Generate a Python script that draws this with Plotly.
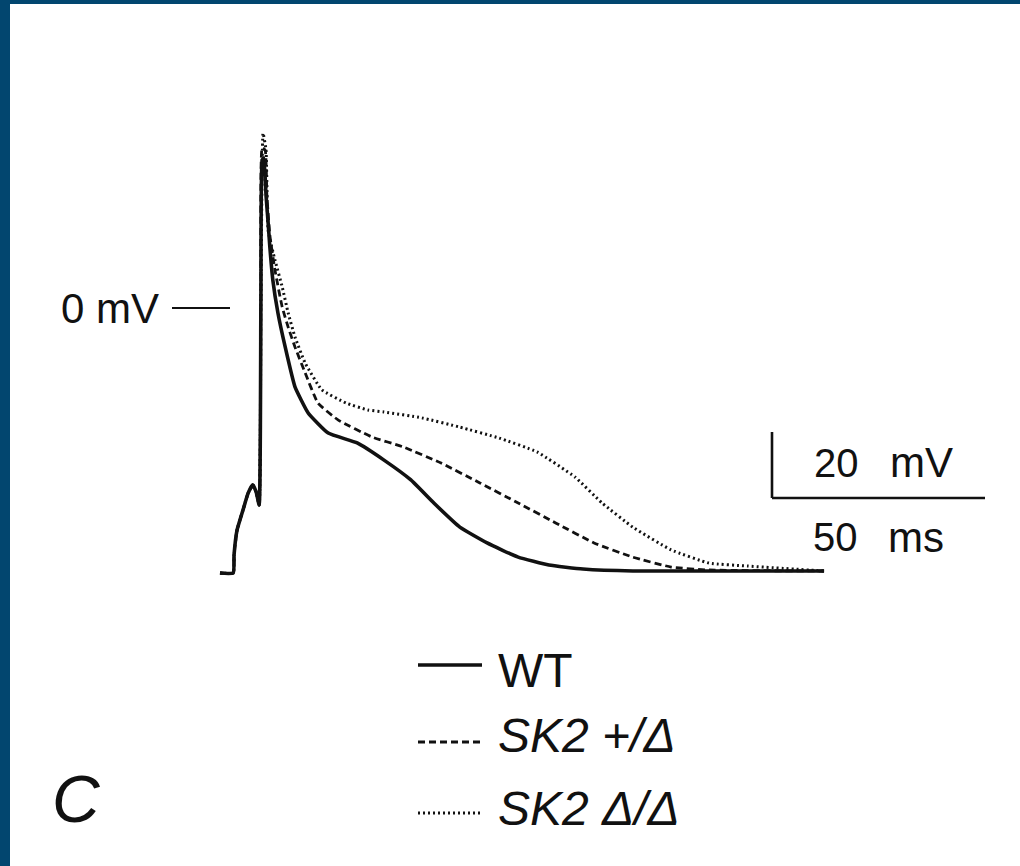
import plotly.graph_objects as go

# ---- data (time in ms, membrane potential in mV) ----
prefix_t = [0.0, 3.1, 3.3, 4.0, 5.4, 6.6, 7.7, 8.5, 9.2]
prefix_v = [-80.3, -80.3, -74.8, -67.3, -61.2, -56.1, -53.6, -55.8, -59.7]

wt_t = [9.6, 9.9, 10.3, 10.8, 11.3, 11.7, 12.4, 13.6, 15.3, 17.6, 20.7, 25.4, 32.2,
        38.5, 44.8, 50.2, 56.3, 62.7, 70.0, 77.2, 85.2, 96.9, 141.8]
wt_v = [2.4, 44.8, 45.5, 34.2, 25.8, 18.5, 8.5, -1.5, -11.8, -23.9, -31.8, -37.9, -40.9,
        -46.1, -52.1, -59.1, -66.4, -71.2, -75.5, -77.9, -79.1, -79.7, -79.7]

het_t = [9.6, 9.9, 10.6, 11.0, 11.7, 12.9, 14.6, 16.0, 17.6, 20.0, 23.0, 27.7, 35.7,
         43.0, 51.9, 61.0, 70.0, 78.9, 87.8, 96.9, 105.9, 114.8, 141.8]
het_v = [2.4, 48.5, 47.9, 34.2, 22.1, 11.5, 0.3, -5.8, -11.8, -19.7, -28.8, -33.9, -39.1,
         -42.1, -47.0, -53.0, -59.1, -65.2, -71.2, -75.5, -78.5, -79.4, -79.7]

hom_t = [9.6, 10.1, 10.8, 11.3, 12.9, 14.6, 16.0, 17.6, 20.0, 23.9, 29.6, 34.7, 38.5,
         47.4, 56.3, 65.5, 74.4, 83.3, 89.7, 96.9, 105.9, 114.8, 123.9, 141.8]
hom_v = [2.4, 53.0, 47.9, 23.6, 14.5, 6.4, -1.5, -8.8, -16.7, -24.8, -28.8, -30.9, -31.5,
         -33.3, -36.1, -39.4, -43.6, -51.2, -59.1, -66.4, -73.3, -77.3, -78.2, -79.7]

series_names = ["WT", "SK2 +/Δ", "SK2 Δ/Δ"]
scale_mv = 20
scale_ms = 50

# ---- geometry helpers (pixel layout of the 1020x866 canvas) ----
W, H = 1020, 866
PX_PER_MS = 4.26
PX_PER_MV = 3.3
X0_PX = 220   # pixel column of t = 0
Y0_PX = 308   # pixel row of 0 mV

def t_at(px):
    return (px - X0_PX) / PX_PER_MS

def v_at(py):
    return (Y0_PX - py) / PX_PER_MV

def px(x):
    return x / W

def py(y):
    return 1 - y / H

INK = "#111111"
BORDER = "#02466f"
FONT = "Liberation Sans, Arial, Helvetica, sans-serif"

fig = go.Figure()

styles = [
    dict(color=INK, width=3.6, dash="solid"),
    dict(color=INK, width=2.8, dash="7px,4px"),
    dict(color=INK, width=3.0, dash="2px,3px"),
]
for name, tt, vv, st in zip(series_names,
                            [wt_t, het_t, hom_t],
                            [wt_v, het_v, hom_v], styles):
    fig.add_trace(go.Scatter(x=prefix_t + tt, y=prefix_v + vv, mode="lines",
                             name=name, line=st, showlegend=False,
                             line_shape="spline", line_smoothing=0.4))

shapes = []
# border bands
shapes.append(dict(type="rect", xref="paper", yref="paper", x0=0, x1=px(10), y0=0, y1=1,
                   fillcolor=BORDER, line_width=0, layer="above"))
shapes.append(dict(type="rect", xref="paper", yref="paper", x0=0, x1=1, y0=py(4), y1=1,
                   fillcolor=BORDER, line_width=0, layer="above"))
# 0 mV marker
shapes.append(dict(type="line", xref="x", yref="y", x0=t_at(172), x1=t_at(230), y0=0, y1=0,
                   line=dict(color=INK, width=2)))
# scale bars
sb_t = t_at(772)
sb_v = v_at(498)
shapes.append(dict(type="line", xref="x", yref="y", x0=sb_t, x1=sb_t, y0=sb_v, y1=sb_v + scale_mv,
                   line=dict(color=INK, width=2.6)))
shapes.append(dict(type="line", xref="x", yref="y", x0=sb_t, x1=sb_t + scale_ms, y0=sb_v, y1=sb_v,
                   line=dict(color=INK, width=2.6)))

# legend line samples
leg_y = [665, 742, 813]
leg_text_y = [670, 735, 808]
for st, yy in zip(styles, leg_y):
    fig.add_trace(go.Scatter(x=[t_at(418), t_at(482)], y=[v_at(yy), v_at(yy)], mode="lines",
                             line=st, showlegend=False, hoverinfo="skip"))

ann = []
def text(s, x, y, size, xanchor="left", italic=False):
    ann.append(dict(text=f"<i>{s}</i>" if italic else s, x=px(x), y=py(y), xref="paper", yref="paper",
                    showarrow=False, xanchor=xanchor, yanchor="middle",
                    font=dict(family=FONT, size=size, color=INK)))

text("0 mV", 161, 308, 42, xanchor="right")
text(f"{scale_mv}", 836, 463, 40, xanchor="center")
text("mV", 921, 463, 42, xanchor="center")
text(f"{scale_ms}", 835, 537, 40, xanchor="center")
text("ms", 916, 537, 42, xanchor="center")
for name, yy in zip(series_names, leg_text_y):
    text(name, 496, yy, 48, italic=(name != "WT"))
text("C", 76, 799, 66, xanchor="center", italic=True)

fig.update_layout(
    width=W, height=H, margin=dict(l=0, r=0, t=0, b=0),
    paper_bgcolor="white", plot_bgcolor="white",
    xaxis=dict(visible=False, range=[t_at(0), t_at(W)], fixedrange=True),
    yaxis=dict(visible=False, range=[v_at(H), v_at(0)], fixedrange=True),
    shapes=shapes, annotations=ann, showlegend=False, hovermode=False,
)

fig.write_html("out.html", config={"displayModeBar": False},
               post_script="document.body.style.margin='0';document.body.style.overflow='hidden';")
